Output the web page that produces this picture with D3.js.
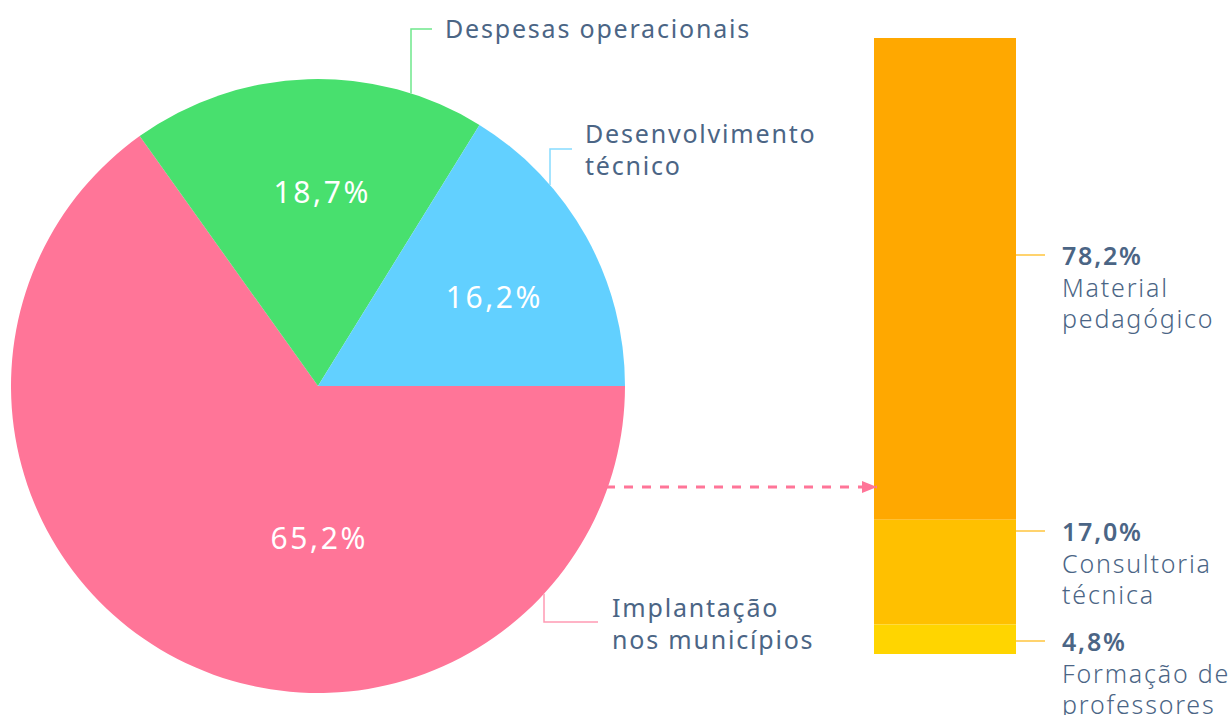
<!DOCTYPE html>
<html>
<head>
<meta charset="utf-8">
<script src="https://cdn.jsdelivr.net/npm/d3@7"></script>
<style>
  html, body { margin: 0; padding: 0; background: #fff; }
  svg { display: block; }
  text { font-family: "Noto Sans", Lato, sans-serif; }
</style>
</head>
<body>
<svg id="chart" width="1230" height="715"></svg>
<script>
// Budget split (pie) and breakdown of "Implantação nos municípios" (stacked bar)
const pieCategories = ["Implantação nos municípios", "Despesas operacionais", "Desenvolvimento técnico"];
const pieValues = [65.2, 18.7, 16.2];
const pieColors = ["#ff7598", "#48e06e", "#62d0ff"];
const pieLineColors = ["#ff9ab4", "#6fe88c", "#86dcff"];
const pieLabelLines = [["Implantação", "nos municípios"], ["Despesas operacionais"], ["Desenvolvimento", "técnico"]];

const barCategories = ["Material pedagógico", "Consultoria técnica", "Formação de professores"];
const barValues = [78.2, 17.0, 4.8];
const barColors = ["#ffa800", "#ffc000", "#ffd500"];
const barLabelLines = [["Material", "pedagógico"], ["Consultoria", "técnica"], ["Formação de", "professores"]];

const fmt = v => d3.format(".1f")(v).replace(".", ",") + "%";
const textColor = "#4b6585";

const svg = d3.select("#chart");

// ---------- Pie ----------
const cx = 318, cy = 386, R = 307;
const pie = d3.pie().sort(null).value(d => d)
  .startAngle(Math.PI / 2).endAngle(Math.PI / 2 + 2 * Math.PI);
const arcs = pie(pieValues);
const arc = d3.arc().innerRadius(0).outerRadius(R);

const gPie = svg.append("g").attr("transform", `translate(${cx},${cy})`);
gPie.selectAll("path").data(arcs).join("path")
  .attr("d", arc)
  .attr("fill", (d, i) => pieColors[i]);

// percentage labels inside slices (angle in d3 convention, radius as fraction of R)
const inLabelPos = [{ a: Math.PI, r: 0.495 }, { a: 0.015, r: 0.63 }, { a: 1.1, r: 0.64 }];
gPie.selectAll("text.pct").data(arcs).join("text")
  .attr("class", "pct")
  .each(function (d, i) {
    const p = inLabelPos[i];
    const a = p.a == null ? (d.startAngle + d.endAngle) / 2 : p.a;
    const rr = p.r * R;
    d3.select(this)
      .attr("x", Math.sin(a) * rr + 1.3)
      .attr("y", -Math.cos(a) * rr);
  })
  .attr("text-anchor", "middle")
  .attr("dy", "0.36em")
  .attr("fill", "#fff")
  .attr("font-size", 30)
  .attr("letter-spacing", 2.6)
  .text(d => fmt(d.data));

// elbow connectors: vertical from pie edge at dx, then horizontal
const connectors = [
  { dx: 226, side: 1, yEnd: 622, x2: 598, tx: 612, ty: 617 },
  { dx: 93, side: -1, yEnd: 29, x2: 432, tx: 445, ty: 38 },
  { dx: 232, side: -1, yEnd: 149, x2: 572, tx: 585, ty: 143 }
];
connectors.forEach((c, i) => {
  const x = cx + c.dx;
  const yEdge = cy + c.side * Math.sqrt(R * R - c.dx * c.dx);
  svg.append("path")
    .attr("d", `M${x},${yEdge}V${c.yEnd}H${c.x2}`)
    .attr("fill", "none")
    .attr("stroke", pieLineColors[i])
    .attr("stroke-width", 1.5);
  const t = svg.append("text")
    .attr("x", c.tx).attr("y", c.ty)
    .attr("fill", textColor)
    .attr("font-size", 25)
    .attr("letter-spacing", 1.8);
  pieLabelLines[i].forEach((line, j) => {
    t.append("tspan").attr("x", c.tx).attr("dy", j === 0 ? 0 : 32).text(line);
  });
});

// ---------- Stacked bar ----------
const y = d3.scaleLinear().domain([0, 100]).range([654, 38]);
const barX = 874, barW = 142;
let acc = 100;
const stacked = barValues.map((v, i) => {
  const top = acc; acc -= v;
  return { v, top, bottom: acc, i };
});
svg.selectAll("rect.seg").data(stacked).join("rect")
  .attr("class", "seg")
  .attr("x", barX).attr("width", barW)
  .attr("y", d => y(d.top))
  .attr("height", d => y(d.bottom) - y(d.top))
  .attr("fill", d => barColors[d.i]);

// bar annotations
const barLabelY = [255, 531, 641];
stacked.forEach((d, i) => {
  svg.append("line")
    .attr("x1", barX + barW).attr("x2", barX + barW + 29)
    .attr("y1", barLabelY[i]).attr("y2", barLabelY[i])
    .attr("stroke", "#ffc53d").attr("stroke-width", 1.5);
  const t = svg.append("text")
    .attr("x", 1062).attr("y", barLabelY[i] + 10)
    .attr("fill", textColor).attr("font-size", 25)
    .attr("letter-spacing", 1.8);
  t.append("tspan").attr("font-weight", 600).text(fmt(d.v));
  barLabelLines[i].forEach(line => {
    t.append("tspan").attr("x", 1062).attr("dy", 31.5).attr("font-weight", 300).text(line);
  });
});

// dashed arrow from the pink slice to the bar
const defs = svg.append("defs");
defs.append("marker")
  .attr("id", "arrow").attr("viewBox", "0 0 15 12")
  .attr("refX", 15).attr("refY", 6)
  .attr("markerWidth", 15).attr("markerHeight", 12)
  .attr("markerUnits", "userSpaceOnUse")
  .attr("orient", "auto")
  .append("path").attr("d", "M0,0L15,6L0,12Z").attr("fill", "#ff7598");
svg.append("line")
  .attr("x1", 606).attr("x2", 877)
  .attr("y1", 487).attr("y2", 487)
  .attr("stroke", "#ff7598").attr("stroke-width", 3)
  .attr("stroke-dasharray", "9,9")
  .attr("marker-end", "url(#arrow)");
</script>
</body>
</html>
